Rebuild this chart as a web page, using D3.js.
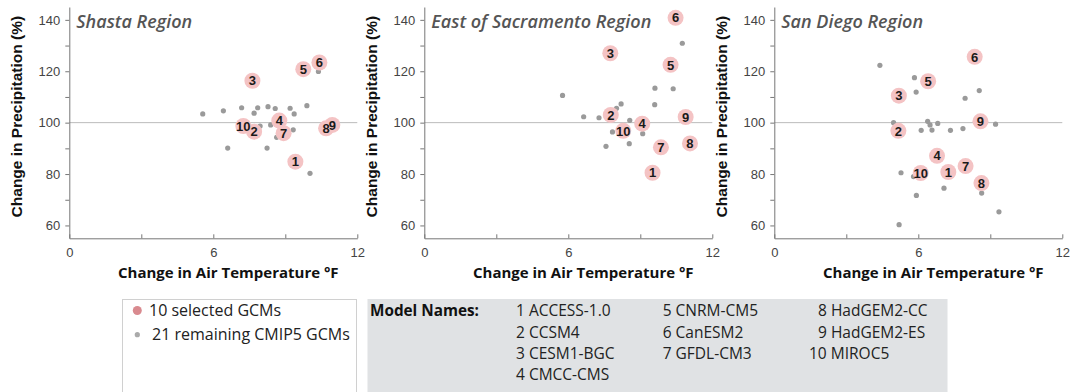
<!DOCTYPE html>
<html>
<head>
<meta charset="utf-8">
<script src="https://cdn.jsdelivr.net/npm/d3@7"></script>
<style>
  body { margin: 0; background: #fff; }
  svg { display: block; }
</style>
</head>
<body>
<svg id="chart" width="1070" height="392"></svg>
<script>
// region titles and model names
var regionNames = ["Shasta Region", "East of Sacramento Region", "San Diego Region"];
var modelNames = ["ACCESS-1.0", "CCSM4", "CESM1-BGC", "CMCC-CMS", "CNRM-CM5",
  "CanESM2", "GFDL-CM3", "HadGEM2-CC", "HadGEM2-ES", "MIROC5"];

// selected GCMs, index i = model i+1 (temp in F, precip in %)
var shastaSelT = [9.42, 7.7, 7.63, 8.75, 9.75, 10.42, 8.93, 10.7, 10.96, 7.25];
var shastaSelP = [84.8, 96.5, 116.3, 100.8, 120.8, 123.4, 95.9, 97.8, 99.1, 98.7];
var sacSelT = [9.51, 7.77, 7.75, 9.08, 10.26, 10.47, 9.86, 11.07, 10.89, 8.29];
var sacSelP = [80.5, 103, 127, 99.6, 122.5, 140.8, 90.4, 91.9, 102.2, 96.8];
var sdSelT = [7.25, 5.17, 5.19, 6.78, 6.41, 8.35, 7.97, 8.63, 8.59, 6.1];
var sdSelP = [80.8, 96.8, 110.5, 87.1, 116.1, 125.6, 83.1, 76.5, 100.5, 80.4];

// remaining CMIP5 GCMs
var shastaRestT = [5.56, 6.42, 6.6, 7.18, 7.7, 7.85, 7.95, 8.28, 8.24, 8.39, 8.58, 8.64, 9.2, 9.37, 9.33, 9.9, 10.03, 10.38];
var shastaRestP = [103.4, 104.6, 90.1, 105.8, 103.7, 105.8, 98.7, 106.2, 90.1, 99.1, 105.5, 94.3, 105.6, 103.4, 97.2, 106.6, 80.3, 119.9];
var sacRestT = [5.76, 6.64, 7.28, 7.57, 7.84, 8.01, 8.2, 8.56, 8.54, 9.1, 9.61, 9.6, 10.37, 10.75];
var sacRestP = [110.6, 102.3, 101.9, 90.8, 96.4, 105.6, 107.3, 100.9, 91.8, 95.7, 113.4, 107, 113.2, 130.9];
var sdRestT = [4.4, 5.84, 5.91, 4.97, 6.39, 6.49, 6.57, 6.81, 6.12, 7.34, 7.86, 7.95, 8.54, 9.22, 5.28, 5.8, 5.92, 7.07, 8.64, 9.36, 5.2];
var sdRestP = [122.3, 117.5, 111.9, 100, 100.5, 99.1, 97.1, 99.7, 97, 97, 97.7, 109.5, 112.5, 99.4, 80.5, 79, 71.7, 74.5, 72.6, 65.3, 60.3];

var xTicks = [0, 3, 6, 9, 12];
var yTicks = [60, 70, 80, 90, 100, 110, 120, 130, 140];

var panels = [
  { name: regionNames[0], selT: shastaSelT, selP: shastaSelP, restT: shastaRestT, restP: shastaRestP, left: 69.3 },
  { name: regionNames[1], selT: sacSelT, selP: sacSelP, restT: sacRestT, restP: sacRestP, left: 424.3 },
  { name: regionNames[2], selT: sdSelT, selP: sdSelP, restT: sdRestT, restP: sdRestP, left: 774.3 }
];

var svg = d3.select("#chart");
var plotW = 288;

var y = d3.scaleLinear().domain([55, 145]).range([238.3, 7]);

panels.forEach(function(p) {
  var x = d3.scaleLinear().domain([0, 12]).range([0, plotW]);
  var g = svg.append("g").attr("transform", "translate(" + p.left + ",0)");

  // reference line at 100%
  g.append("line")
    .attr("x1", 0).attr("x2", plotW)
    .attr("y1", y(100)).attr("y2", y(100))
    .style("stroke", "#bbb").style("stroke-width", 1);

  var ya = g.append("g")
    .call(d3.axisLeft(y).tickValues(yTicks)
      .tickFormat(function(d) { return d % 20 === 0 ? d : ""; })
      .tickSize(4).tickSizeOuter(0).tickPadding(5));
  var xa = g.append("g")
    .attr("transform", "translate(0," + y(55) + ")")
    .call(d3.axisBottom(x).tickValues(xTicks)
      .tickFormat(function(d) { return d % 6 === 0 ? d : ""; })
      .tickSizeInner(-4).tickSizeOuter(0).tickPadding(9));
  [ya, xa].forEach(function(a) {
    a.selectAll("path, line").style("stroke", "#777");
    a.selectAll("text")
      .style("font-family", "'Liberation Sans', Arial, sans-serif")
      .style("font-size", "13px")
      .style("fill", "#444");
  });

  // remaining models
  g.selectAll(".rest")
    .data(p.restT)
    .enter().append("circle")
    .attr("class", "rest")
    .attr("cx", function(d) { return x(d); })
    .attr("cy", function(d, i) { return y(p.restP[i]); })
    .attr("r", 2.6)
    .style("fill", "#9a9a9a");

  // selected models: all circles first, then the numbers on top
  g.selectAll(".sel")
    .data(p.selT)
    .enter().append("circle")
    .attr("class", "sel")
    .attr("cx", function(d) { return x(d); })
    .attr("cy", function(d, i) { return y(p.selP[i]); })
    .attr("r", 8)
    .style("fill", "#f4c3c4");
  g.selectAll(".num")
    .data(p.selT)
    .enter().append("text")
    .attr("class", "num")
    .attr("x", function(d) { return x(d); })
    .attr("y", function(d, i) { return y(p.selP[i]); })
    .attr("text-anchor", "middle")
    .attr("dy", "0.36em")
    .style("font-family", "'Liberation Sans', Arial, sans-serif")
    .style("font-weight", "bold")
    .style("font-size", "13px")
    .style("fill", "#1a1a1a")
    .text(function(d, i) { return i + 1; });

  // title
  g.append("text")
    .attr("x", 7).attr("y", 28)
    .style("font-family", "'Open Sans', sans-serif")
    .style("font-style", "italic")
    .style("font-weight", 600)
    .style("font-size", "18px")
    .style("fill", "#555")
    .text(p.name);

  // axis labels
  g.append("text")
    .attr("transform", "translate(-47," + (y(100) - 6) + ") rotate(-90)")
    .attr("text-anchor", "middle")
    .style("font-family", "'Liberation Sans', Arial, sans-serif")
    .style("font-weight", "bold")
    .style("font-size", "15.5px")
    .style("fill", "#111")
    .text("Change in Precipitation (%)");

  g.append("text")
    .attr("x", plotW / 2 + 15).attr("y", 278)
    .attr("text-anchor", "middle")
    .style("font-family", "'Open Sans', sans-serif")
    .style("font-weight", "bold")
    .style("font-size", "15px")
    .style("fill", "#111")
    .text("Change in Air Temperature °F");
});

// legend box
var leg = svg.append("g");
leg.append("rect")
  .attr("x", 122.5).attr("y", 299.5).attr("width", 234).attr("height", 100)
  .style("fill", "#fff").style("stroke", "#d0d0d0");
leg.append("circle").attr("cx", 137.3).attr("cy", 310.5).attr("r", 4.5).style("fill", "#d98a8f");
leg.append("circle").attr("cx", 137.3).attr("cy", 334.7).attr("r", 2.6).style("fill", "#aaa");
leg.append("text").attr("x", 149).attr("y", 316)
  .style("font-family", "'Open Sans', sans-serif").style("font-size", "16px").style("fill", "#222")
  .text("10 selected GCMs");
leg.append("text").attr("x", 152).attr("y", 339.5)
  .style("font-family", "'Open Sans', sans-serif").style("font-size", "16px").style("fill", "#222")
  .text("21 remaining CMIP5 GCMs");

// model names box
var mb = svg.append("g");
mb.append("rect")
  .attr("x", 367.5).attr("y", 299).attr("width", 580).attr("height", 100)
  .style("fill", "#e0e2e4");
mb.append("text").attr("x", 370).attr("y", 316)
  .style("font-family", "'Open Sans', sans-serif").style("font-weight", "bold")
  .style("font-size", "15.3px").style("fill", "#111")
  .text("Model Names:");

var colX = [516, 662.7, 809];
var rowY = [316, 338, 358.5, 380];
var colRows = [[0, 1, 2, 3], [4, 5, 6], [7, 8, 9]];
colRows.forEach(function(rows, c) {
  mb.selectAll(null)
    .data(rows)
    .enter().append("text")
    .attr("x", function(d) { return colX[c] + (d + 1 < 10 && c === 2 ? 9 : 0); })
    .attr("y", function(d, r) { return rowY[r]; })
    .style("font-family", "'Open Sans', sans-serif")
    .style("font-size", "15.5px")
    .style("fill", "#222")
    .text(function(d) { return (d + 1) + " " + modelNames[d]; });
});
</script>
</body>
</html>
